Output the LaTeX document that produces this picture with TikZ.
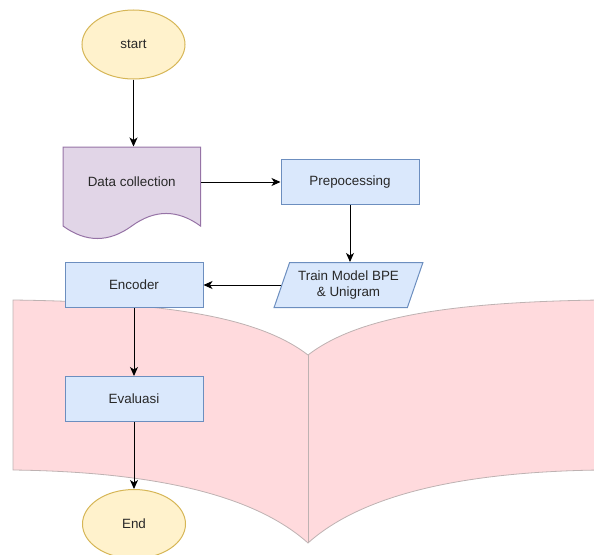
\documentclass[tikz,border=0pt]{standalone}
\usepackage{fontspec}
\setmainfont{Liberation Sans}
\usetikzlibrary{shapes.geometric,arrows.meta}
\definecolor{yfill}{HTML}{FFF2CC}
\definecolor{ydraw}{HTML}{D6B656}
\definecolor{pfill}{HTML}{E1D5E7}
\definecolor{pdraw}{HTML}{9673A6}
\definecolor{bfill}{HTML}{DAE8FC}
\definecolor{bdraw}{HTML}{6C8EBF}
\definecolor{bookfill}{RGB}{255,218,221}
\definecolor{bookdraw}{RGB}{190,178,178}
\definecolor{txt}{RGB}{40,40,40}
\tikzset{
  base/.style={font=\fontsize{13.4}{16}\selectfont, text=txt, line width=1pt, inner sep=0pt},
  term/.style={base, ellipse, draw=ydraw, fill=yfill, minimum width=103, minimum height=69},
  box/.style={base, rectangle, draw=bdraw, fill=bfill, minimum width=138, minimum height=45},
  para/.style={base, trapezium, trapezium left angle=65, trapezium right angle=115, trapezium stretches=true, draw=bdraw, fill=bfill, minimum width=149, minimum height=45, align=center},
  doclabel/.style={base, draw=none, minimum width=137.5, minimum height=70},
  arr/.style={-{Stealth[length=9pt,width=8pt,inset=2.5pt]}, line width=1pt, black},
}
\begin{document}
\begin{tikzpicture}[x=1pt,y=-1pt]
\useasboundingbox (0,0) rectangle (594,554);
\clip (0,0) rectangle (594,554);
% book shape
\draw[fill=bookfill, draw=bookdraw, line width=0.8pt]
  (13,300) .. controls (170,302) and (260,318) .. (308,355)
  .. controls (356,318) and (446,302) .. (600,300)
  -- (600,470)
  .. controls (446,472) and (356,500) .. (308,543)
  .. controls (260,500) and (170,472) .. (13,470) -- cycle;
\draw[draw=bookdraw, line width=0.8pt] (308,355) -- (308,543);
% document shape
\draw[fill=pfill, draw=pdraw, line width=1pt]
  (63,147) -- (200.5,147) -- (200.5,226)
  .. controls (177.6,209.3) and (154.65,209.3) .. (131.75,226)
  .. controls (108.85,242.67) and (85.93,242.67) .. (63,226) -- cycle;
\node[term] (start) at (133.5,44.5) {start};
\node[doclabel] (data) at (131.75,182) {Data collection};
\node[box] (prep) at (350,182) {Prepocessing};
\node[para] (train) at (348.5,285) {Train Model BPE\\\& Unigram};
\node[box] (enc) at (134,285) {Encoder};
\node[box] (eval) at (134,399) {Evaluasi};
\node[term] (end) at (134,524) {End};
\draw[arr] (start.south) -- (start.south |- data.north);
\draw[arr] (data.east) -- (data.east -| prep.west);
\draw[arr] (prep.south) -- (prep.south |- train.north);
\draw[arr] (train.west) -- (train.west -| enc.east);
\draw[arr] (enc) -- (eval);
\draw[arr] (eval) -- (end);
\end{tikzpicture}
\end{document}
